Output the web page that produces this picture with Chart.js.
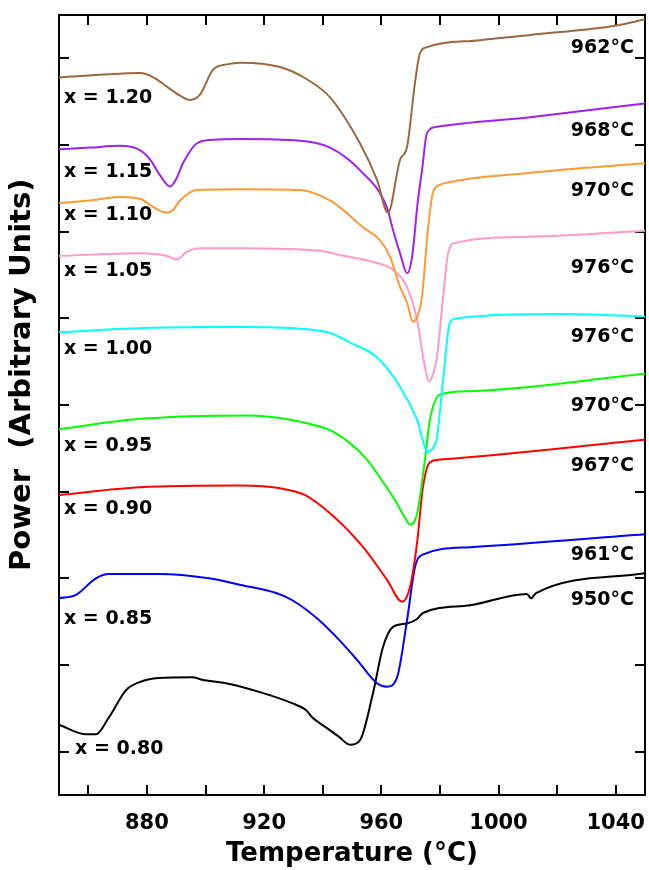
<!DOCTYPE html>
<html>
<head>
<meta charset="utf-8">
<script src="https://cdn.jsdelivr.net/npm/chart.js@4.4.1/dist/chart.umd.min.js"></script>
<style>
  body { margin: 0; background: #fff; }
  canvas { display: block; }
</style>
</head>
<body>
<canvas id="dsc" width="649" height="870"></canvas>
<script>
// DSC traces, temperature (°C) vs power (arbitrary, offset per composition)
const compositions = ['x = 1.20', 'x = 1.15', 'x = 1.10', 'x = 1.05', 'x = 1.00', 'x = 0.95', 'x = 0.90', 'x = 0.85', 'x = 0.80'];
const peakLabels = ['962°C', '968°C', '970°C', '976°C', '976°C', '970°C', '967°C', '961°C', '950°C'];
const colors = ['#9a6a3c', '#a020f0', '#ff9933', '#ff99cc', '#00ffff', '#00ff00', '#ff0000', '#0000ff', '#000000'];

const tempX120 = [850, 864, 877.6, 882.8, 886.9, 891.3, 894.7, 898.1, 902.6, 907.3, 911.8, 925.4, 934, 942.5, 952.7, 958.5, 962.3, 966.4, 968.8, 971.5, 973.2, 975.6, 993.7, 1010.8, 1040.4, 1050];
const powerX120 = [82.8, 83.1, 83.3, 82.7, 81.7, 80.7, 80.2, 80.8, 83.7, 84.3, 84.5, 84.0, 82.7, 80.5, 75.2, 71.0, 67.2, 73.3, 74.8, 82.2, 85.6, 86.3, 87.1, 87.7, 88.8, 89.5];

const tempX115 = [850, 860.6, 870.8, 877.6, 881.1, 884.5, 887.9, 889.9, 892.3, 897.1, 902.6, 911.8, 932.3, 942.5, 952.7, 961.9, 964, 966.4, 968.8, 970.5, 972.5, 973.9, 975.6, 979, 1010.8, 1050];
const powerX115 = [74.5, 74.7, 74.9, 74.4, 73.3, 71.5, 70.2, 71.0, 72.9, 75.2, 75.6, 75.7, 75.5, 74.7, 72.1, 67.8, 65.2, 62.5, 60.2, 62.1, 68.6, 72.1, 76.4, 77.1, 78.2, 79.8];

const tempX110 = [850, 860.6, 870.8, 877.6, 881.1, 884.5, 886.9, 888.9, 891.3, 897.1, 911.8, 932.3, 942.5, 945.9, 953.8, 959.6, 963, 966.4, 968.8, 970.8, 972.5, 973.9, 975.9, 977.6, 980, 981.7, 1010.8, 1050];
const powerX110 = [68.3, 68.6, 69.0, 68.8, 68.1, 67.4, 67.2, 67.5, 68.6, 69.8, 69.9, 69.8, 68.6, 67.8, 65.5, 64.0, 62.1, 58.6, 56.8, 54.6, 55.4, 57.5, 65.2, 69.5, 70.4, 70.6, 71.8, 72.9];

const tempX105 = [850, 877.6, 886.9, 890.3, 893.7, 898.1, 911.8, 939.1, 945.9, 957.2, 964, 968.8, 972.2, 974.9, 976.3, 977.6, 979, 981.1, 982.8, 985.2, 1010.8, 1050];
const powerX105 = [62.2, 62.5, 62.2, 61.8, 62.7, 63.1, 63.1, 62.8, 62.3, 61.5, 60.6, 58.6, 54.8, 49.4, 47.7, 48.5, 50.5, 57.5, 62.5, 63.7, 64.4, 65.1];

const tempX100 = [850, 881.1, 911.8, 932.3, 942.5, 949.3, 958.5, 966.4, 972.2, 975.9, 977.6, 979, 981.1, 983.4, 985.8, 1021.8, 1050];
const powerX100 = [53.4, 53.9, 54.0, 53.8, 53.3, 52.2, 50.5, 47.1, 43.3, 39.6, 40.0, 41.3, 47.9, 54.5, 55.0, 55.5, 55.2];

const tempX095 = [850, 877.6, 915.2, 925.4, 935.7, 942.5, 949.3, 955.1, 959.6, 964.7, 968.1, 969.8, 971.5, 972.5, 974.9, 976.6, 980, 990.3, 1050];
const powerX095 = [42.2, 43.4, 43.8, 43.5, 42.8, 42.1, 40.6, 38.7, 36.6, 34.0, 32.0, 31.2, 31.7, 32.9, 38.7, 43.3, 46.2, 46.6, 48.6];

const tempX090 = [850, 877.6, 911.8, 925.4, 934, 942.5, 953.8, 962, 967.1, 969.8, 972.2, 974.2, 976.6, 980, 1050];
const powerX090 = [34.6, 35.5, 35.7, 35.4, 34.6, 32.5, 28.6, 24.8, 22.3, 24.0, 29.1, 35.5, 38.4, 38.7, 41.0];

const tempX085 = [850, 855.8, 862.6, 867.1, 884.1, 901.2, 912.5, 924.1, 929.5, 938.7, 945.6, 951.7, 958.5, 961.9, 965.4, 968.8, 971.5, 973.9, 990.3, 1050];
const powerX085 = [22.7, 23.1, 25.0, 25.5, 25.5, 25.0, 24.2, 23.3, 22.5, 20.2, 17.9, 15.6, 12.9, 12.5, 13.6, 20.2, 26.3, 27.7, 28.6, 30.1];

const tempX080 = [850, 859.2, 862.6, 867.1, 872.9, 877.3, 884.1, 895.4, 898.8, 907, 918.3, 929.5, 934.3, 936.3, 941.1, 945.6, 949.3, 952.7, 957.2, 960.6, 964, 968.8, 972.2, 974.2, 990.3, 1009.7, 1011.1, 1012.8, 1050];
const powerX080 = [8.1, 7.0, 7.0, 9.0, 12.1, 13.0, 13.5, 13.6, 13.3, 12.9, 11.9, 10.6, 9.8, 9.0, 7.8, 6.7, 5.8, 6.3, 11.8, 17.1, 19.4, 19.8, 20.3, 21.0, 21.9, 23.2, 22.7, 23.3, 25.6];

const temps = [tempX120, tempX115, tempX110, tempX105, tempX100, tempX095, tempX090, tempX085, tempX080];
const powers = [powerX120, powerX115, powerX110, powerX105, powerX100, powerX095, powerX090, powerX085, powerX080];

// tick marks
const tempTicks = [860, 880, 900, 920, 940, 960, 980, 1000, 1020, 1040];
const powerTicks = [5, 15, 25, 35, 45, 55, 65, 75, 85];

// where the text labels sit, in data units
const leftLabelT = [851.7, 851.7, 851.7, 851.7, 851.7, 851.7, 851.7, 851.7, 855.5];
const leftLabelY = [80.4, 71.9, 66.9, 60.5, 51.5, 40.3, 33.0, 20.3, 5.3];
const rightLabelT = 1046.2;
const rightLabelY = [86.2, 76.6, 69.7, 60.8, 52.8, 44.9, 37.9, 27.7, 22.5];

const FONT = 'DejaVu Sans';

const datasets = compositions.map((name, i) => ({
  label: name,
  data: temps[i].map((t, j) => ({ x: t, y: powers[i][j] })),
  borderColor: colors[i],
  borderWidth: 2,
  pointRadius: 0,
  fill: false,
  cubicInterpolationMode: 'monotone'
}));

// draws the composition and peak temperature labels
const curveLabels = {
  id: 'curveLabels',
  afterDatasetsDraw(chart) {
    const { ctx, scales: { x, y } } = chart;
    ctx.save();
    ctx.fillStyle = '#000';
    ctx.font = 'bold 19px ' + FONT;
    ctx.textBaseline = 'middle';
    ctx.textAlign = 'left';
    compositions.forEach((c, i) => {
      ctx.fillText(c, x.getPixelForValue(leftLabelT[i]), y.getPixelForValue(leftLabelY[i]));
    });
    ctx.textAlign = 'right';
    peakLabels.forEach((p, i) => {
      ctx.fillText(p, x.getPixelForValue(rightLabelT), y.getPixelForValue(rightLabelY[i]));
    });
    ctx.restore();
  }
};

function axisBase(extra) {
  return Object.assign({
    type: 'linear',
    border: { display: true, color: '#000', width: 2 },
    grid: { drawOnChartArea: false, drawTicks: true, tickLength: -10, color: '#000', lineWidth: 2 }
  }, extra);
}

// keep the plot box fixed, no room kept for overhanging tick labels
function fixSize(w, h) {
  return s => {
    if (w !== null) s.width = w;
    if (h !== null) s.height = h;
    s.paddingLeft = 0; s.paddingRight = 0; s.paddingTop = 0; s.paddingBottom = 0;
  };
}

new Chart(document.getElementById('dsc'), {
  type: 'line',
  data: { datasets },
  options: {
    responsive: false,
    animation: false,
    devicePixelRatio: 1,
    layout: { padding: 0 },
    plugins: { legend: { display: false }, tooltip: { enabled: false } },
    scales: {
      x: axisBase({
        position: 'bottom', min: 850, max: 1050,
        afterBuildTicks: s => { s.ticks = tempTicks.map(v => ({ value: v })); },
        afterFit: fixSize(null, 75),
        ticks: {
          padding: 26, color: '#000', maxRotation: 0, autoSkip: false,
          font: { family: FONT, size: 21, weight: 'bold' },
          callback: v => (v % 40 === 0 ? String(v) : '')
        },
        title: { display: true, text: 'Temperature (°C)', color: '#000', padding: 0,
          font: { family: FONT, size: 26, weight: 'bold' } }
      }),
      x2: axisBase({
        position: 'top', min: 850, max: 1050,
        afterBuildTicks: s => { s.ticks = tempTicks.map(v => ({ value: v })); },
        afterFit: fixSize(null, 15),
        ticks: { display: false }
      }),
      y: axisBase({
        position: 'left', min: 0, max: 90,
        afterBuildTicks: s => { s.ticks = powerTicks.map(v => ({ value: v })); },
        afterFit: fixSize(59, null),
        ticks: { display: false },
        title: { display: true, text: '      Power  (Arbitrary Units)', color: '#000', padding: { top: 5 },
          font: { family: FONT, size: 29, weight: 'bold' } }
      }),
      y2: axisBase({
        position: 'right', min: 0, max: 90,
        afterBuildTicks: s => { s.ticks = powerTicks.map(v => ({ value: v })); },
        afterFit: fixSize(4, null),
        ticks: { display: false }
      })
    }
  },
  plugins: [curveLabels]
});
</script>
</body>
</html>
